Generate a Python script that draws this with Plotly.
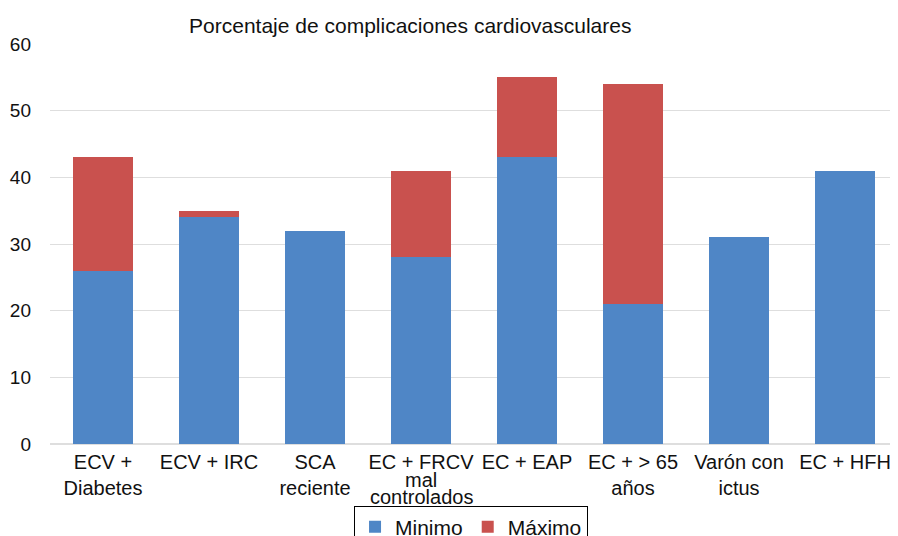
import plotly.graph_objects as go

categorias = ["ECV +<br>Diabetes", "ECV + IRC", "SCA<br>reciente", "EC + FRCV",
              "EC + EAP", "EC + > 65<br>años", "Varón con<br>ictus", "EC + HFH"]
etiqueta_extra = ["mal", "controlados"]   # continuation lines of "EC + FRCV"
minimo = [26, 34, 32, 28, 43, 21, 31, 41]
maximo = [43, 35, 32, 41, 55, 54, 31, 41]
y_ticks = [0, 10, 20, 30, 40, 50, 60]

diferencia = [mx - mn for mn, mx in zip(minimo, maximo)]
x_idx = list(range(len(categorias)))

fig = go.Figure()
fig.add_trace(go.Bar(x=x_idx, y=minimo, name="Minimo", marker_color="#4F86C6",
                     marker_line_width=0))
fig.add_trace(go.Bar(x=x_idx, y=diferencia, name="Máximo", marker_color="#C9514E",
                     marker_line_width=0))

font_family = "Liberation Sans, Arial, sans-serif"

# continuation lines for the FRCV label (tighter spacing as in the original)
for i, txt in enumerate(etiqueta_extra):
    fig.add_annotation(x=3, xref="x", y=0, yref="y", text=txt, showarrow=False,
                       yanchor="top", yshift=-23 - 17 * i,
                       font=dict(size=20, color="#111", family=font_family))

fig.update_layout(
    barmode="stack",
    width=890, height=528,
    margin=dict(l=42, r=0, t=36, b=92, autoexpand=False),
    paper_bgcolor="white", plot_bgcolor="white",
    bargap=0.434,
    font=dict(family=font_family, size=20, color="#111"),
    title=dict(text="Porcentaje de complicaciones cardiovasculares",
               x=0.452, xanchor="center", xref="container",
               y=0.966, yanchor="middle", yref="container",
               font=dict(size=21, color="#111")),
    xaxis=dict(tickmode="array", tickvals=x_idx, ticktext=categorias,
               showgrid=False, showline=False, ticks="", range=[-0.5, 7.5],
               tickfont=dict(size=20), ticklabelstandoff=4),
    yaxis=dict(range=[0, 60], tickvals=y_ticks, showgrid=True, gridcolor="#dedede",
               zeroline=True, zerolinecolor="#dedede", showline=False, ticks="",
               tickfont=dict(size=19), ticklabelstandoff=18),
    legend=dict(orientation="h", x=0.4965, xanchor="center", y=-0.154, yanchor="top",
                bordercolor="black", borderwidth=1, font=dict(size=21),
                itemwidth=30, traceorder="normal"),
)

fig.write_html("out.html")
